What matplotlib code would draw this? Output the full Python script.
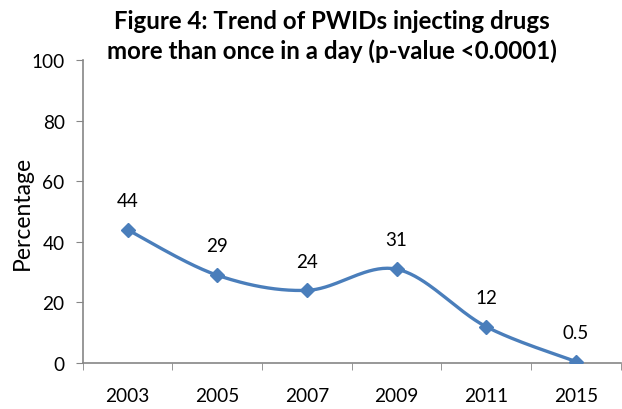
import numpy as np
import matplotlib.pyplot as plt

years = ["2003", "2005", "2007", "2009", "2011", "2015"]
values = [44, 29, 24, 31, 12, 0.5]
labels = ["44", "29", "24", "31", "12", "0.5"]

plt.rcParams['font.family'] = ['Lato', 'DejaVu Sans']

color = "#4A7EBB"
axis_color = "#868686"


def smooth(xs, ys, n=40):
    # Catmull-Rom style cubic Bezier smoothing through every point
    xs = np.asarray(xs, float)
    ys = np.asarray(ys, float)
    px = np.concatenate([[xs[0]], xs, [xs[-1]]])
    py = np.concatenate([[ys[0]], ys, [ys[-1]]])
    out_x, out_y = [], []
    t = np.linspace(0, 1, n)
    for i in range(1, len(px) - 2):
        p0 = np.array([px[i], py[i]])
        p3 = np.array([px[i + 1], py[i + 1]])
        p1 = p0 + (np.array([px[i + 1], py[i + 1]]) - np.array([px[i - 1], py[i - 1]])) / 6
        p2 = p3 - (np.array([px[i + 2], py[i + 2]]) - np.array([px[i], py[i]])) / 6
        b = ((1 - t) ** 3)[:, None] * p0 + (3 * (1 - t) ** 2 * t)[:, None] * p1 \
            + (3 * (1 - t) * t ** 2)[:, None] * p2 + (t ** 3)[:, None] * p3
        out_x.extend(b[:, 0])
        out_y.extend(b[:, 1])
    return out_x, out_y


fig = plt.figure(figsize=(6.22, 4.10), dpi=100)
ax = fig.add_axes([0.133, 0.112, 0.865, 0.739])

x = np.arange(len(years))
sx, sy = smooth(x, values)
ax.plot(sx, sy, color=color, lw=2.4, solid_capstyle='round', zorder=3)
ax.plot(x, values, linestyle='none', marker='D', ms=7, color=color, zorder=4)

for xi, v, lab in zip(x, values, labels):
    ax.annotate(lab, (xi, v), xytext=(0, 15), textcoords='offset points',
                ha='center', va='bottom', fontsize=13.5)

ax.set_xlim(-0.5, len(years) - 0.5)
ax.set_ylim(0, 100)
ax.set_yticks(range(0, 101, 20))
ax.set_xticks(x)
ax.set_xticklabels(years)
ax.set_xticks(np.arange(-0.5, len(years), 1), minor=True)
ax.tick_params(axis='x', which='major', length=0, pad=17, labelsize=13.7)
ax.tick_params(axis='x', which='minor', length=5, color=axis_color, direction='out')
ax.tick_params(axis='y', length=5, color=axis_color, direction='out', pad=8, labelsize=13.7)

for side in ['top', 'right']:
    ax.spines[side].set_visible(False)
for side in ['left', 'bottom']:
    ax.spines[side].set_color(axis_color)
    ax.spines[side].set_linewidth(1.2)

ax.set_ylabel("Percentage", fontsize=16.5)
ax.yaxis.set_label_coords(-0.092, 0.5)
fig.text(0.533, 0.975, "Figure 4: Trend of PWIDs injecting drugs\nmore than once in a day (p-value <0.0001)",
         ha='center', va='top', fontsize=17.3, fontweight='bold', linespacing=1.3)

fig.savefig("out.png", dpi=100)
